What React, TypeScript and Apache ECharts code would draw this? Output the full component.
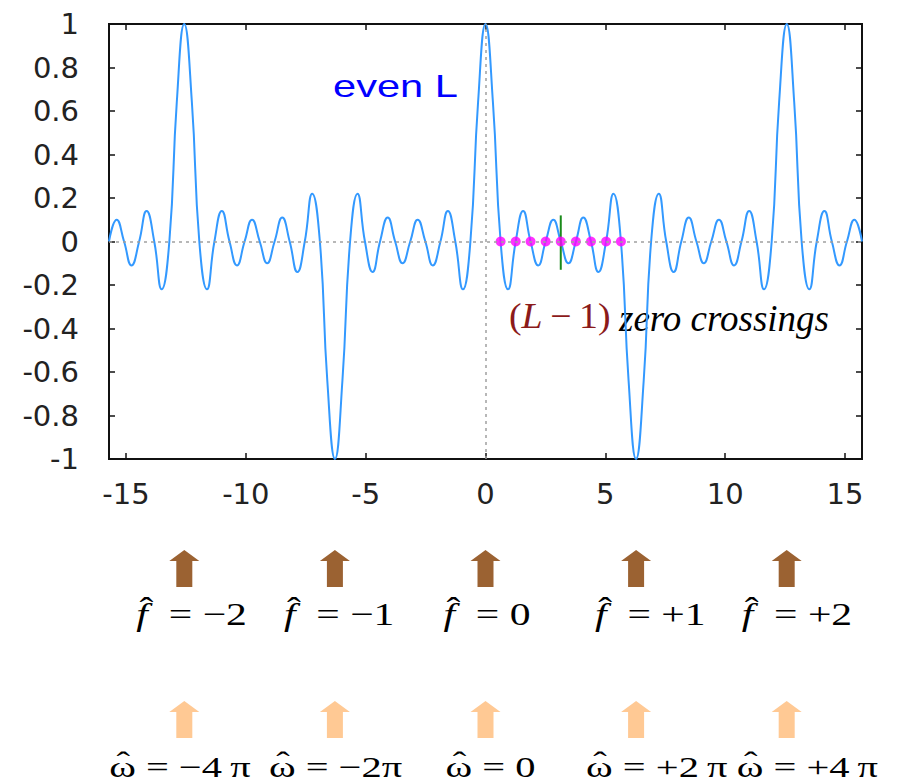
import React, { useEffect, useRef } from "react";
import * as echarts from "echarts";

const omega = [
  -15.71, -15.39, -15.08, -14.77, -14.45, -14.14, -13.82, -13.51, -13.19, -12.88,
  -12.57, -12.25, -11.94, -11.62, -11.31, -11.0, -10.68, -10.37, -10.05, -9.74,
  -9.42, -9.11, -8.8, -8.48, -8.17, -7.85, -7.54, -7.23, -6.91, -6.6,
  -6.28, -5.97, -5.65, -5.34, -5.03, -4.71, -4.4, -4.08, -3.77, -3.46,
  -3.14, -2.83, -2.51, -2.2, -1.88, -1.57, -1.26, -0.94, -0.63, -0.31,
  0,
  0.31, 0.63, 0.94, 1.26, 1.57, 1.88, 2.2, 2.51, 2.83, 3.14,
  3.46, 3.77, 4.08, 4.4, 4.71, 5.03, 5.34, 5.65, 5.97, 6.28,
  6.6, 6.91, 7.23, 7.54, 7.85, 8.17, 8.48, 8.8, 9.11, 9.42,
  9.74, 10.05, 10.37, 10.68, 11.0, 11.31, 11.62, 11.94, 12.25, 12.57,
  12.88, 13.19, 13.51, 13.82, 14.14, 14.45, 14.77, 15.08, 15.39, 15.71,
];
const response = [
  0, 0.1, 0, -0.11, 0, 0.14, 0, -0.22, 0, 0.64,
  1, 0.64, 0, -0.22, 0, 0.14, 0, -0.11, 0, 0.1,
  0, -0.1, 0, 0.11, 0, -0.14, 0, 0.22, 0, -0.64,
  -1, -0.64, 0, 0.22, 0, -0.14, 0, 0.11, 0, -0.1,
  0, 0.1, 0, -0.11, 0, 0.14, 0, -0.22, 0, 0.64,
  1,
  0.64, 0, -0.22, 0, 0.14, 0, -0.11, 0, 0.1, 0,
  -0.1, 0, 0.11, 0, -0.14, 0, 0.22, 0, -0.64, -1,
  -0.64, 0, 0.22, 0, -0.14, 0, 0.11, 0, -0.1, 0,
  0.1, 0, -0.11, 0, 0.14, 0, -0.22, 0, 0.64, 1,
  0.64, 0, -0.22, 0, 0.14, 0, -0.11, 0, 0.1, 0,
];

// Zero crossings between 0 and 2π (L-1 = 9)
const zeroCrossings = [0.63, 1.26, 1.88, 2.51, 3.14, 3.77, 4.4, 5.03, 5.65];
const midMarkerX = 3.14;
const midMarkerY = [0.12, -0.13];

const xTicks = [-15, -10, -5, 0, 5, 10, 15];
const xMin = -15.708;
const xMax = 15.708;

// Annotation arrows and labels
const arrowOmega = [-12.566, -6.283, 0, 6.283, 12.566];
const fValues = ["\u22122", "\u22121", "0", "+1", "+2"];
const wValues = ["\u22124\u2009\u03c0", "\u22122\u03c0", "0", "+2\u2009\u03c0", "+4\u2009\u03c0"];

const tickFont = "DejaVu Sans";
const serif = "Liberation Serif";

function arrow(cx: number, top: number, fill: string) {
  const hw = 15, sw = 8, hh = 11, total = 37;
  return {
    type: "polygon",
    silent: true,
    shape: {
      points: [
        [cx, top],
        [cx + hw, top + hh],
        [cx + sw, top + hh],
        [cx + sw, top + total],
        [cx - sw, top + total],
        [cx - sw, top + hh],
        [cx - hw, top + hh],
      ],
    },
    style: { fill },
  };
}

export default function App() {
  const ref = useRef<HTMLDivElement>(null);
  useEffect(() => {
    if (!ref.current) return;
    const chart = echarts.init(ref.current, null, { renderer: "svg" });
    const xTick = {
      show: true,
      inside: true,
      length: 6,
      customValues: xTicks,
      lineStyle: { color: "#111", width: 1.5 },
    };
    const yTick = { show: true, inside: true, length: 6, lineStyle: { color: "#111", width: 1.5 } };
    const option: any = {
      animation: false,
      backgroundColor: "#ffffff",
      grid: {
        left: 109,
        top: 24,
        right: 38,
        bottom: 324,
        show: true,
        borderColor: "#111",
        borderWidth: 2,
        backgroundColor: "transparent",
      },
      xAxis: [
        {
          type: "value",
          min: xMin,
          max: xMax,
          position: "bottom",
          axisLine: { show: false, onZero: false },
          splitLine: { show: false },
          axisTick: xTick,
          axisLabel: {
            show: true,
            customValues: xTicks,
            fontFamily: tickFont,
            fontSize: 29,
            color: "#222",
            margin: 20,
          },
        },
        {
          type: "value",
          min: xMin,
          max: xMax,
          position: "top",
          axisLine: { show: false, onZero: false },
          splitLine: { show: false },
          axisTick: xTick,
          axisLabel: { show: false },
        },
      ],
      yAxis: [
        {
          type: "value",
          min: -1,
          max: 1,
          interval: 0.2,
          position: "left",
          axisLine: { show: false, onZero: false },
          splitLine: { show: false },
          axisTick: yTick,
          axisLabel: {
            fontFamily: tickFont,
            fontSize: 29,
            color: "#222",
            margin: 30,
            formatter: (v: number) => String(parseFloat(v.toFixed(1))),
          },
        },
        {
          type: "value",
          min: -1,
          max: 1,
          interval: 0.2,
          position: "right",
          axisLine: { show: false, onZero: false },
          splitLine: { show: false },
          axisTick: yTick,
          axisLabel: { show: false },
        },
      ],
      series: [
        {
          type: "line",
          name: "guides",
          data: [],
          silent: true,
          z: 1,
          markLine: {
            silent: true,
            symbol: ["none", "none"],
            label: { show: false },
            lineStyle: { color: "#a0a0a0", type: [3, 4], width: 1.5 },
            data: [{ yAxis: 0 }, { xAxis: 0 }],
          },
        },
        {
          type: "line",
          name: "response",
          data: omega.map((w, i) => [w, response[i]]),
          smooth: true,
          showSymbol: false,
          symbol: "none",
          z: 2,
          lineStyle: { color: "#3399ff", width: 2 },
        },
        {
          type: "line",
          name: "marker",
          data: midMarkerY.map((y) => [midMarkerX, y]),
          showSymbol: false,
          symbol: "none",
          z: 3,
          lineStyle: { color: "#1a8a1a", width: 2 },
        },
        {
          type: "scatter",
          name: "zeros",
          data: zeroCrossings.map((x) => [x, 0]),
          symbolSize: 10,
          z: 4,
          itemStyle: { color: "#ff00ff" },
        },
      ],
    };
    chart.setOption(option);

    const px = arrowOmega.map((w) => chart.convertToPixel({ xAxisIndex: 0 }, w) as number);
    const fLeftOffset = [-48, -51, -42, -41, -45];
    const wLeftOffset = [-75, -66, -40, -50, -50];
    const graphic: any[] = [
      {
        type: "text",
        x: 333,
        y: 86,
        scaleX: 1.3,
        silent: true,
        style: {
          text: "even L",
          fill: "#0000ff",
          fontFamily: "Liberation Sans",
          fontSize: 32,
          align: "left",
          verticalAlign: "middle",
        },
      },
      {
        type: "text",
        x: 509,
        y: 316,
        scaleX: 1.08,
        silent: true,
        style: {
          text: "{p|(}{l|L}{p|\u2009\u2212\u20091)}",
          align: "left",
          verticalAlign: "middle",
          rich: {
            p: { fontFamily: serif, fontSize: 35, fill: "#8b1a1a" },
            l: { fontFamily: serif, fontSize: 35, fontStyle: "italic", fill: "#8b1a1a" },
          },
        },
      },
      {
        type: "text",
        x: 619,
        y: 318,
        silent: true,
        style: {
          text: "zero crossings",
          fill: "#000",
          fontFamily: serif,
          fontStyle: "italic",
          fontSize: 37,
          align: "left",
          verticalAlign: "middle",
        },
      },
    ];
    px.forEach((x, i) => {
      graphic.push(arrow(x, 550, "#9b6232"));
      graphic.push(arrow(x, 701, "#ffc994"));
      const fl = x + fLeftOffset[i];
      graphic.push({
        type: "text",
        x: fl,
        y: 614,
        scaleX: 1.3,
        silent: true,
        style: {
          text: "{s|f}{r|  = " + fValues[i] + "}",
          align: "left",
          verticalAlign: "middle",
          rich: {
            s: { fontFamily: serif, fontSize: 32, fontStyle: "italic", fill: "#000" },
            r: { fontFamily: serif, fontSize: 32, fill: "#000" },
          },
        },
      });
      graphic.push({
        type: "text",
        x: fl + 10,
        y: 608,
        scaleX: 1.3,
        silent: true,
        style: {
          text: "\u02c6",
          fill: "#000",
          fontFamily: serif,
          fontSize: 32,
          align: "center",
          verticalAlign: "middle",
        },
      });
      const wl = x + wLeftOffset[i];
      graphic.push({
        type: "text",
        x: wl,
        y: 767,
        scaleX: 1.35,
        silent: true,
        style: {
          text: "\u03c9 = " + wValues[i],
          fill: "#000",
          fontFamily: serif,
          fontSize: 30,
          align: "left",
          verticalAlign: "middle",
        },
      });
      graphic.push({
        type: "text",
        x: wl + 14,
        y: 762,
        scaleX: 1.35,
        silent: true,
        style: {
          text: "\u02c6",
          fill: "#000",
          fontFamily: serif,
          fontSize: 30,
          align: "center",
          verticalAlign: "middle",
        },
      });
    });
    chart.setOption({ graphic });

    return () => chart.dispose();
  }, []);
  return (
    <div
      ref={ref}
      style={{ position: "fixed", left: 0, top: 0, width: 900, height: 783, background: "#fff" }}
    />
  );
}
